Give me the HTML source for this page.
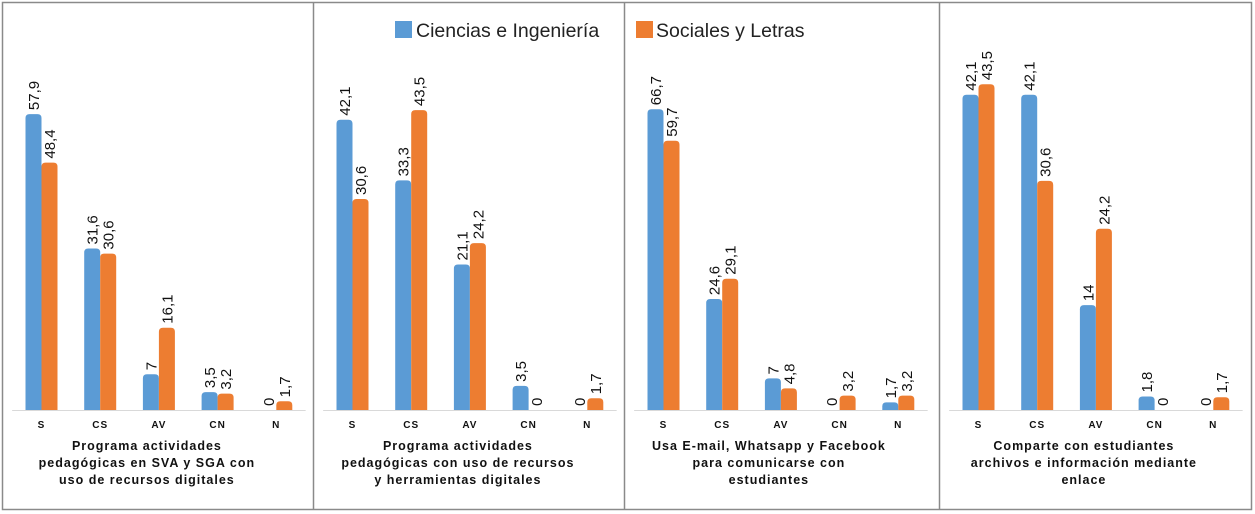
<!DOCTYPE html>
<html><head><meta charset="utf-8"><style>
html,body{margin:0;padding:0;background:#fff;}
svg{display:block;font-family:"Liberation Sans",Arial,sans-serif;}
</style></head><body>
<svg id="chart" width="1255" height="514" viewBox="0 0 1255 514">
<rect x="2.5" y="2.5" width="1249" height="507" fill="none" stroke="#8a8a8a" stroke-width="1.5"/>
<g>
<rect x="395" y="21" width="17" height="17" fill="#5B9BD5"/>
<text x="416" y="37" font-size="19.5" fill="#222">Ciencias e Ingeniería</text>
<rect x="636" y="21" width="17" height="17" fill="#ED7D31"/>
<text x="656" y="37" font-size="19.5" fill="#222">Sociales y Letras</text>
</g>
<g id="panels"></g>
</svg>
<script>
const categories = ["S","CS","AV","CN","N"];
const titles = [
 ["Programa actividades","pedagógicas en SVA y SGA con","uso de recursos digitales"],
 ["Programa actividades","pedagógicas con uso de recursos","y herramientas digitales"],
 ["Usa E-mail, Whatsapp y Facebook","para comunicarse con","estudiantes"],
 ["Comparte con estudiantes","archivos e información mediante","enlace"]
];
const ciencias = [
 [57.9,31.6,7,3.5,0],
 [42.1,33.3,21.1,3.5,0],
 [66.7,24.6,7,0,1.7],
 [42.1,42.1,14,1.8,0]
];
const sociales = [
 [48.4,30.6,16.1,3.2,1.7],
 [30.6,43.5,24.2,0,1.7],
 [59.7,29.1,4.8,3.2,3.2],
 [43.5,30.6,24.2,0,1.7]
];
const panelMax = [63, 46.7, 71.4, 43.0];

const NS="http://www.w3.org/2000/svg";
const g=document.getElementById("panels");
const edges=[2,313,624,939,1251];
const baseY=410, plotH=322;
function el(t,a){const e=document.createElementNS(NS,t);for(const k in a)e.setAttribute(k,a[k]);return e;}
function barPath(x,w,top){const h=baseY-top;const r=Math.min(4,h/2,w/2);
 if(h<=0)return "";
 return `M${x},${baseY}V${top+r}Q${x},${top} ${x+r},${top}H${x+w-r}Q${x+w},${top} ${x+w},${top+r}V${baseY}Z`;}
for(let p=0;p<4;p++){
 const L=edges[p],R=edges[p+1];
 const pg=el("g",{});
 
 
 g.appendChild(pg);
 if(p>0){const d=el("line",{x1:L+0.5,x2:L+0.5,y1:2,y2:509,stroke:"#8a8a8a","stroke-width":1.5});
  
  
  pg.appendChild(d);}
 const step=58.7, axL=L+39.5-step/2, axR=axL+step*5;
 const ax=el("line",{x1:axL,x2:axR,y1:baseY+0.5,y2:baseY+0.5,stroke:"#d9d9d9","stroke-width":1});
 
 
 pg.appendChild(ax);
 const yS=v=>baseY-v/panelMax[p]*plotH;
 const bw=16;
 categories.forEach((c,i)=>{
  const cx=axL+step*(i+0.5);
  const series=[[ciencias[p][i],"#5B9BD5",cx-bw,"ciencias"],[sociales[p][i],"#ED7D31",cx,"sociales"]];
  series.forEach(([v,col,x,nm])=>{
   const top=yS(v);
   const b=el("path",{d:barPath(x,bw,top),fill:col});
   
   
   pg.appendChild(b);
   const tx=x+bw/2+5.5, ty=top-4;
   const t=el("text",{x:tx,y:ty,"font-size":15,fill:"#111",transform:`rotate(-90 ${tx} ${ty})`});
   t.textContent=String(v).replace(".",",");
   
   
   pg.appendChild(t);
  });
  const ct=el("text",{x:cx,y:428,"font-size":10,"font-weight":"bold","text-anchor":"middle","letter-spacing":"1",fill:"#111"});
  ct.textContent=c;
  
  
  pg.appendChild(ct);
 });
 const tcx=(axL+axR)/2-12;
 titles[p].forEach((line,k)=>{
  const t=el("text",{x:tcx,y:450+k*17,"font-size":12.5,"font-weight":"bold","text-anchor":"middle","letter-spacing":"1",fill:"#111"});
  t.textContent=line;
  
  
  pg.appendChild(t);
 });
}
</script>
</body></html>
